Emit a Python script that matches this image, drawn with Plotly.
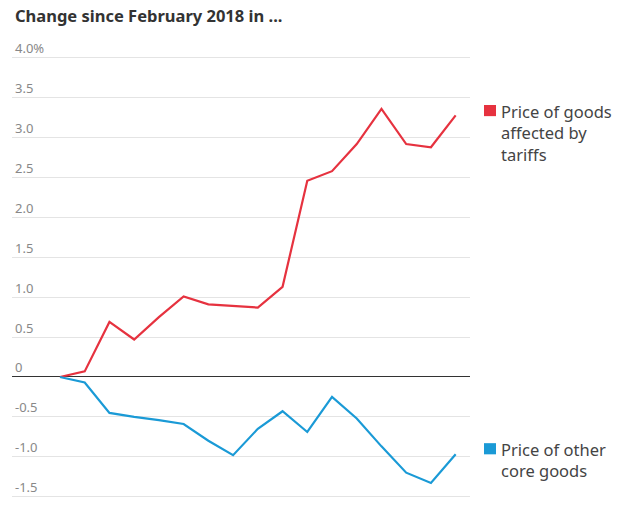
import plotly.graph_objects as go

months = list(range(17))
tariff_goods = [0, 0.07, 0.69, 0.47, 0.75, 1.01, 0.91, 0.89, 0.87, 1.13,
                2.46, 2.58, 2.92, 3.36, 2.92, 2.88, 3.28]
other_core = [0, -0.07, -0.45, -0.50, -0.54, -0.59, -0.80, -0.98, -0.65, -0.43,
              -0.69, -0.25, -0.52, -0.87, -1.20, -1.33, -0.97]
tick_vals = [-1.5, -1.0, -0.5, 0, 0.5, 1.0, 1.5, 2.0, 2.5, 3.0, 3.5, 4.0]
tick_text = ["-1.5", "-1.0", "-0.5", "0", "0.5", "1.0", "1.5", "2.0", "2.5", "3.0", "3.5", "4.0%"]
series_names = ["Price of goods<br>affected by<br>tariffs", "Price of other<br>core goods"]
colors = ["#e6323f", "#1a9ad6"]

fig = go.Figure()
for vals, col in zip([tariff_goods, other_core], colors):
    fig.add_trace(go.Scatter(x=months, y=vals, mode="lines",
                             line=dict(color=col, width=2.2), showlegend=False,
                             hoverinfo="skip"))

# page body has an 8px margin; figure is sized to fill the rest of the window
W, H = 621, 499
OFF = 8
ml, mr, mt, mb = 4, 159, 22, 8
plot_w = W - ml - mr

def px_to_paper_x(px):
    return (px - OFF - ml) / plot_w

square_y = [3.34, -0.9]
text_y = [3.06, -1.045]
for name, col, sy, ty in zip(series_names, colors, square_y, text_y):
    fig.add_shape(type="rect", xref="paper", yref="y",
                  x0=px_to_paper_x(484), x1=px_to_paper_x(496),
                  y0=sy - 0.07, y1=sy + 0.07,
                  fillcolor=col, line=dict(width=0))
    fig.add_annotation(xref="paper", yref="y", x=px_to_paper_x(499), y=ty,
                       text=name, showarrow=False, xanchor="left", yanchor="middle",
                       align="left",
                       font=dict(family="Noto Sans", size=16.5, color="#444"))

# thin frame line at the right page edge
fig.add_shape(type="line", xref="paper", yref="paper",
              x0=px_to_paper_x(622), x1=px_to_paper_x(622), y0=-0.05, y1=1.2,
              line=dict(color="#e6e6e6", width=1.5))

fig.update_layout(
    width=W, height=H,
    margin=dict(l=ml, r=mr, t=mt, b=mb),
    paper_bgcolor="white", plot_bgcolor="white",
    title=dict(text="<b>Change since February 2018 in ...</b>", x=(15 - OFF) / W,
               xanchor="left", y=1 - 2.5 / H, yanchor="top", pad=dict(t=0, l=0),
               font=dict(family="Noto Sans", size=16.5, color="#333")),
    xaxis=dict(range=[-1.94, 16.58], showgrid=False, showticklabels=False,
               zeroline=False, showline=False, ticks=""),
    yaxis=dict(range=[-1.53, 4.35], tickvals=tick_vals, ticktext=tick_text,
               ticklabelposition="inside top", showgrid=True, gridcolor="#e4e4e4",
               gridwidth=1, zeroline=True, zerolinecolor="#333", zerolinewidth=1.3,
               showline=False, ticks="",
               tickfont=dict(family="Noto Sans", size=13, color="#888")),
)
fig.write_html("out.html")
